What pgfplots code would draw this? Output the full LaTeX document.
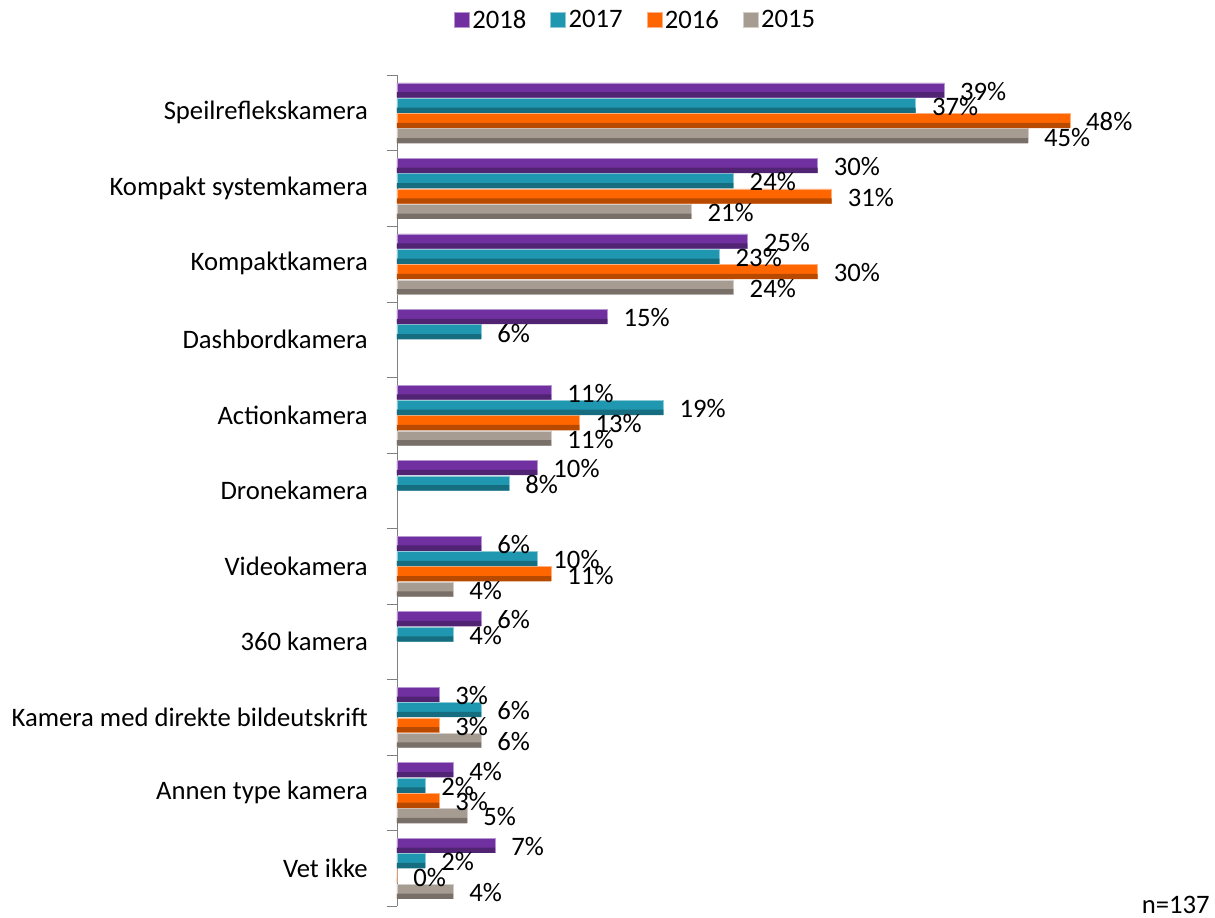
\documentclass[border=0pt]{standalone}
\usepackage{fontspec}
\setmainfont{Carlito}
\usepackage{pgfplots}
\usepackage{pgfplotstable}
\pgfplotsset{compat=1.18}
\definecolor{c18}{HTML}{7030A0}
\definecolor{c17}{HTML}{1F97B0}
\definecolor{c16}{HTML}{FF6600}
\definecolor{c15}{HTML}{A69C91}
\newcommand{\lbl}{\fontsize{20}{24}\selectfont}

% value (%) and category index (0 = top)
\pgfplotstableread{
v y
39 0
30 1
25 2
15 3
11 4
10 5
6 6
6 7
3 8
4 9
7 10
}\dA
\pgfplotstableread{
v y
37 0
24 1
23 2
6 3
19 4
8 5
10 6
4 7
6 8
2 9
2 10
}\dB
\pgfplotstableread{
v y
48 0
31 1
30 2
13 4
11 6
3 8
3 9
0 10
}\dC
\pgfplotstableread{
v y
45 0
21 1
24 2
11 4
4 6
6 8
5 9
4 10
}\dD

\pgfplotsset{
  lab/.style={nodes near coords={\pgfmathprintnumber[assume math mode=true]{\pgfplotspointmeta}\%},
    every node near coord/.append style={font=\lbl, anchor=west, inner sep=0pt, xshift=12pt, yshift=-1pt}},
  band/.style={forget plot, bar width=4pt, draw=none, fill=#1!72!black},
}

\begin{document}
\begin{tikzpicture}
  % 1 px of the reference = 0.75pt
  \path[use as bounding box] (-297.75pt,-9pt) rectangle (613.5pt,679.5pt);
  \begin{axis}[at={(0,0)}, anchor=south west, scale only axis,
    width=525.75pt, height=623.25pt,
    xbar, bar width=10.5pt,
    xmin=0, xmax=50, ymin=-0.5, ymax=10.5, y dir=reverse,
    axis x line=none, axis y line*=left, y axis line style={-, draw=gray},
    ytick={0,...,10}, major tick length=0pt,
    minor ytick={-0.5,0.5,...,10.5}, minor tick length=7.5pt, tick align=outside,
    minor tick style={gray},
    yticklabels={Speilreflekskamera, Kompakt systemkamera, Kompaktkamera, Dashbordkamera,
      Actionkamera, Dronekamera, Videokamera, 360 kamera, Kamera med direkte bildeutskrift,
      Annen type kamera, Vet ikke},
    y tick label style={font=\lbl, anchor=east, inner sep=0pt, xshift=-21.75pt},
    clip=false,
    legend style={at={(0.341,1.066)}, anchor=center, draw=none, font=\lbl,
      legend columns=-1, /tikz/every even column/.append style={column sep=16pt}},
    legend image code/.code={\fill[#1] (0pt,-5.6pt) rectangle (11.25pt,5.6pt);},
  ]
    \addplot[lab, bar shift=17.2125pt, draw=c18!50!white, fill=c18] table[x=v, y=y] {\dA};
    \addplot[lab, bar shift=5.7375pt, draw=c17!50!white, fill=c17] table[x=v, y=y] {\dB};
    \addplot[lab, bar shift=-5.7375pt, draw=c16!50!white, fill=c16] table[x=v, y=y] {\dC};
    \addplot[lab, bar shift=-17.2125pt, draw=c15!50!white, fill=c15] table[x=v, y=y] {\dD};
    \legend{2018, 2017, 2016, 2015}
    % darker lower band of each bar (bevel look)
    \addplot[band=c18, bar shift=13.45pt] table[x=v, y=y] {\dA};
    \addplot[band=c17, bar shift=1.95pt] table[x=v, y=y] {\dB};
    \addplot[band=c16, bar shift=-9.5pt] table[x=v, y=y] {\dC};
    \addplot[band=c15, bar shift=-20.95pt] table[x=v, y=y] {\dD};
  \end{axis}
  \node[font=\lbl, anchor=east] at (613pt,0.75pt) {n=137};
\end{tikzpicture}
\end{document}
